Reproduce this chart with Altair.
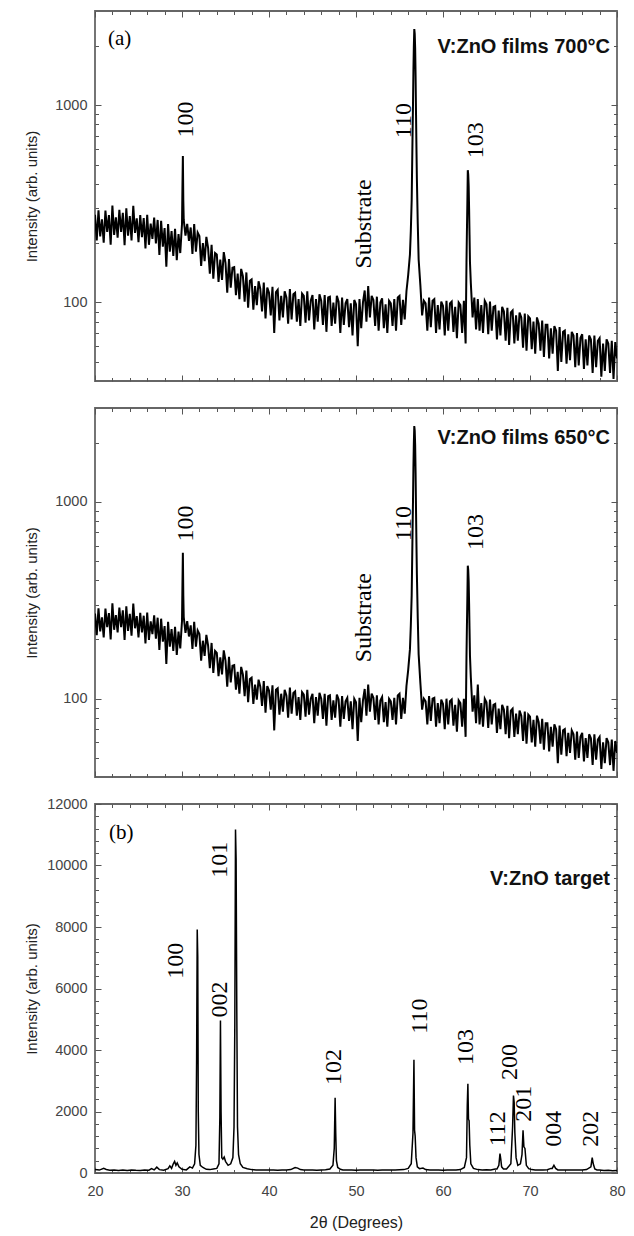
import altair as alt
import pandas as pd

SANS = "Liberation Sans"
SERIF = "Liberation Serif"
W = 522

# ---------------- film patterns (log panels) ----------------
# 2-theta sampling of the film scans (0.2 degree steps, 20..80)
film_2theta = [round(20 + 0.2 * i, 1) for i in range(301)]

counts_700 = [
    278, 206, 293, 216, 264,  201, 292, 228, 277, 196,  310, 220, 270, 213, 295,
    228, 285, 195, 300, 218,  274, 206, 309, 225, 267,  202, 277, 214, 268, 188,
    278, 196, 251, 210, 269,  199, 262, 174, 259, 192,  238, 152, 250, 181, 230,
    172, 236, 164, 222, 178,  250, 262, 218, 250, 205,  240, 176, 250, 181, 226,
    217, 153, 200, 162, 215,  189, 140, 196, 132, 178,  175, 127, 165, 130, 180,
    159, 112, 166, 119, 150,  151, 109, 140, 104, 148,  136, 101, 142, 94, 129,
    131, 92, 121, 97, 128,    117, 90, 126, 83, 119,    112, 86, 120, 70, 113,
    116, 81, 108, 84, 114,    106, 78, 117, 82, 110,    112, 80, 104, 76, 111,
    108, 79, 114, 81, 102,    109, 73, 104, 80, 110,    102, 77, 109, 71, 106,
    107, 76, 100, 78, 108,    101, 70, 106, 77, 99,     104, 75, 99, 68, 103,
    98, 60, 104, 74, 100,     115, 80, 121, 84, 108,    103, 76, 107, 72, 100,
    105, 74, 98, 70, 102,     99, 76, 104, 72, 106,     108, 77, 103, 82, 114,
    138, 175, 330, 1500, 1950, 420, 165, 122, 86, 102,  99, 72, 106, 75, 102,
    104, 70, 97, 73, 101,     96, 68, 102, 72, 99,      101, 71, 95, 66, 100,
    97, 70, 102, 62, 320,     300, 125, 84, 106, 73,    104, 72, 97, 70, 102,
    98, 69, 101, 72, 95,      96, 65, 91, 68, 95,       90, 64, 94, 61, 89,
    91, 62, 86, 64, 89,       84, 59, 88, 57, 85,       83, 58, 80, 55, 84,
    78, 57, 81, 53, 77,       77, 52, 74, 55, 76,       72, 45, 75, 50, 71,
    72, 49, 69, 51, 71,       68, 47, 70, 48, 66,       69, 46, 65, 48, 68,
    65, 44, 68, 47, 64,       66, 42, 62, 45, 65,       62, 44, 64, 41, 63,
    52,
]

counts_650 = [
    271, 210, 288, 220, 259,  205, 287, 231, 272, 200,  305, 224, 266, 217, 290,
    231, 281, 199, 295, 221,  270, 209, 304, 228, 263,  205, 273, 217, 264, 191,
    274, 199, 247, 213, 265,  202, 258, 177, 255, 195,  234, 150, 246, 184, 226,
    175, 232, 167, 219, 180,  248, 260, 216, 248, 207,  236, 179, 246, 184, 222,
    213, 156, 197, 165, 211,  186, 143, 192, 135, 175,  171, 130, 162, 133, 176,
    156, 115, 163, 121, 147,  148, 111, 137, 106, 145,  133, 103, 139, 96, 126,
    128, 94, 118, 99, 125,    115, 92, 123, 85, 116,    110, 88, 117, 69, 111,
    113, 83, 106, 86, 111,    104, 80, 114, 84, 107,    109, 82, 102, 78, 108,
    105, 81, 111, 83, 100,    106, 75, 102, 82, 107,    100, 79, 106, 73, 103,
    104, 78, 98, 80, 105,     99, 72, 103, 79, 97,      101, 77, 97, 70, 100,
    96, 61, 101, 76, 98,      112, 82, 118, 86, 106,    101, 78, 104, 74, 98,
    102, 76, 96, 72, 100,     97, 78, 101, 74, 104,     106, 79, 101, 84, 116,
    140, 178, 335, 1500, 1950, 425, 168, 120, 88, 100,  97, 74, 103, 77, 100,
    101, 72, 95, 75, 99,      94, 70, 100, 74, 97,      99, 73, 93, 68, 98,
    95, 72, 100, 64, 325,     305, 128, 86, 104, 75,    118, 74, 95, 72, 100,
    96, 71, 99, 74, 93,       94, 67, 89, 70, 93,       88, 66, 92, 63, 87,
    89, 64, 84, 66, 87,       82, 61, 86, 59, 83,       81, 60, 78, 57, 82,
    76, 59, 79, 55, 75,       75, 54, 72, 57, 74,       70, 47, 73, 52, 69,
    70, 51, 67, 53, 69,       66, 49, 68, 50, 64,       67, 48, 63, 50, 66,
    63, 46, 66, 49, 62,       64, 44, 60, 47, 63,       60, 46, 62, 43, 61,
    53,
]

# extra points resolving the narrow film peaks (100, 110, 103)
peak_2theta_700 = [30.05, 30.1, 30.15, 56.3, 56.5, 56.55, 56.65, 56.7, 56.75, 56.85,
                   56.9, 56.95, 57.1, 62.7, 62.75, 62.85, 62.9, 62.95, 63.05, 63.1]
peak_counts_700 = [380, 552, 330, 230, 700, 1000, 2000, 2430, 2300, 1400,
                   900, 600, 250, 160, 230, 468, 445, 390, 220, 160]
peak_2theta_650 = peak_2theta_700
peak_counts_650 = [375, 551, 335, 235, 700, 1000, 2000, 2430, 2300, 1400,
                   900, 600, 255, 165, 235, 474, 450, 395, 225, 165]

# ---------------- target pattern (linear panel) ----------------
target_2theta = [
    20.0, 20.5, 21.0, 21.3, 21.7, 22.2, 22.7, 23.2, 23.7, 24.2, 24.7, 25.2, 25.7, 26.2,
    26.5, 26.8, 27.1, 27.4, 27.9, 28.4, 28.6, 28.8, 29.0, 29.15, 29.3, 29.45, 29.65,
    30.0, 30.5, 30.9, 31.2, 31.45, 31.6, 31.68, 31.75, 31.81, 31.87, 31.95, 32.1, 32.4,
    32.8, 33.2, 33.6, 34.0, 34.25, 34.35, 34.42, 34.49, 34.57, 34.7, 34.85, 35.0, 35.3,
    35.6, 35.85, 35.98, 36.07, 36.15, 36.22, 36.3, 36.38, 36.5, 36.7, 37.0, 37.5, 38.0,
    38.5, 39.0, 39.5, 40.0, 40.5, 41.0, 41.5, 42.0, 42.5, 43.0, 43.3, 43.6, 44.0, 44.5,
    45.0, 45.5, 46.0, 46.5, 47.0, 47.35, 47.5, 47.6, 47.67, 47.75, 47.9, 48.2, 48.5,
    49.0, 49.5, 50.0, 50.5, 51.0, 51.5, 52.0, 52.5, 53.0, 53.5, 54.0, 54.5, 55.0, 55.5,
    56.0, 56.35, 56.55, 56.66, 56.73, 56.8, 56.9, 57.05, 57.3, 57.7, 58.0, 58.5, 59.0,
    59.5, 60.0, 60.5, 61.0, 61.5, 62.0, 62.45, 62.7, 62.79, 62.86, 62.93, 63.0, 63.08,
    63.2, 63.5, 64.0, 64.5, 65.0, 65.5, 66.0, 66.2, 66.42, 66.55, 66.64, 66.74, 66.95,
    67.3, 67.8, 68.0, 68.1, 68.18, 68.26, 68.4, 68.6, 68.9, 69.08, 69.2, 69.3, 69.42,
    69.58, 69.85, 70.2, 70.6, 71.0, 71.5, 72.0, 72.4, 72.55, 72.75, 72.95, 73.2, 73.5,
    74.0, 74.5, 75.0, 75.5, 76.0, 76.5, 77.0, 77.15, 77.27, 77.45, 77.7, 78.0, 78.5,
    79.0, 79.5, 80.0,
]
target_counts = [
    110, 95, 150, 115, 90, 100, 85, 95, 80, 100, 88, 85, 95, 90,
    140, 100, 190, 110, 90, 140, 230, 150, 300, 380, 250, 330, 200,
    120, 100, 200, 160, 300, 900, 3700, 7920, 7050, 2000, 600, 250, 180,
    120, 110, 130, 150, 300, 1800, 4960, 2000, 500, 450, 520, 380, 250,
    300, 500, 1500, 4800, 11170, 10200, 5200, 1500, 600, 300, 180, 140, 110,
    100, 100, 95, 100, 95, 90, 100, 95, 110, 180, 160, 110, 100, 95,
    100, 90, 100, 105, 130, 250, 800, 2450, 1300, 400, 180, 120, 100,
    95, 100, 90, 95, 100, 95, 100, 90, 95, 100, 95, 100, 105, 110,
    150, 300, 1300, 3680, 1400, 1200, 500, 200, 140, 160, 110, 100, 95,
    100, 90, 100, 95, 100, 110, 180, 500, 2200, 2900, 1750, 1700, 900,
    300, 150, 110, 100, 105, 100, 130, 130, 250, 630, 450, 200, 130,
    130, 300, 1500, 2520, 2300, 1300, 500, 250, 300, 600, 1390, 850, 800,
    250, 140, 110, 100, 95, 100, 105, 150, 150, 250, 150, 100, 95,
    100, 95, 100, 100, 95, 110, 200, 500, 300, 130, 100, 95, 80,
    90, 70, 80,
]

# ---------------- annotations ----------------
film_peak_labels = ["100", "Substrate", "110", "103"]
film_peak_label_2theta = [30.5, 50.9, 55.5, 63.8]
film_peak_label_y_700 = [846, 250, 835, 663]
film_peak_label_y_650 = [776, 258, 776, 704]

target_peak_labels = ["100", "002", "101", "102", "110", "103", "112", "200", "201", "004", "202"]
target_label_2theta = [29.3, 34.4, 34.4, 47.45, 57.35, 62.6, 66.3, 67.75, 69.35, 72.8, 77.0]
target_label_y = [6900, 5640, 10190, 3445, 5100, 4095, 1441, 3608, 2254, 1441, 1441]

panel_titles = ["V:ZnO films 700°C", "V:ZnO films 650°C", "V:ZnO target"]
panel_title_2theta = [79.2, 79.2, 79.2]
panel_title_y = [1970, 2110, 9567]

panel_tags = ["(a)", "(b)"]
panel_tag_2theta = [21.5, 21.6]
panel_tag_y = [2160, 11050]

x_major = [20, 30, 40, 50, 60, 70, 80]
x_minor = [v for v in range(22, 80, 2) if v % 10 != 0]
log_major = [100, 1000]
log_minor = [50, 60, 70, 80, 90, 200, 300, 400, 500, 600, 700, 800, 900, 2000]
lin_major = [0, 2000, 4000, 6000, 8000, 10000, 12000]
lin_minor = [v for v in range(400, 12000, 400) if v % 2000 != 0]

TICK = "#555555"
MAJ = 6
MIN = 3.5


def inward_axis(orient, values, size, **extra):
    return alt.Axis(orient=orient, values=values, tickSize=size, offset=-size,
                    domain=False, grid=False, tickColor=TICK, tickWidth=1,
                    minExtent=0, labels=extra.pop("labels", False), **extra)


def panel(line_df, label_df, title_df, tag_df, yscale, y_major, y_minor, height,
          bottom, line_width):
    xs = alt.Scale(domain=[20, 80], nice=False, zero=False)
    ylab = dict(labels=True, labelPadding=8, format="d",
                title="Intensity (arb. units)", titleX=-70, titleY=height / 2,
                titleAngle=270, titleAlign="center", titleBaseline="middle")
    if bottom:
        xline = alt.X("x:Q", scale=xs, axis=inward_axis(
            "bottom", x_major, MAJ, labels=True, labelPadding=11, format="d",
            title="2\u03b8 (Degrees)", titleX=W / 2, titleY=55,
            titleBaseline="middle", titleFontSize=16))
    else:
        xline = alt.X("x:Q", scale=xs, axis=inward_axis("bottom", x_major, MAJ), title=None)

    line = alt.Chart(line_df).mark_line(color="black", strokeWidth=line_width, clip=True).encode(
        x=xline,
        y=alt.Y("y:Q", scale=yscale, axis=inward_axis("left", y_major, MAJ, **ylab)),
    )
    carrier = alt.Chart(label_df).mark_point(opacity=0).encode(
        x=alt.X("x:Q", scale=xs, axis=inward_axis("bottom", x_minor, MIN), title=None),
        y=alt.Y("y:Q", scale=yscale, axis=inward_axis("left", y_minor, MIN), title=None),
    )
    labels = alt.Chart(label_df).mark_text(
        font=SERIF, fontSize=24, angle=270, align="center", baseline="middle",
        color="black").encode(
        x=alt.X("x:Q", scale=xs, axis=inward_axis("top", x_major, MAJ), title=None),
        y=alt.Y("y:Q", scale=yscale, axis=inward_axis("right", y_major, MAJ), title=None),
        text="label:N",
    )
    titles = alt.Chart(title_df).mark_text(
        font=SANS, fontSize=20, fontWeight="bold", align="right", baseline="middle",
        color="#111111").encode(
        x=alt.X("x:Q", scale=xs, axis=inward_axis("top", x_minor, MIN), title=None),
        y=alt.Y("y:Q", scale=yscale, axis=inward_axis("right", y_minor, MIN), title=None),
        text="label:N",
    )
    layers = [line, carrier, labels, titles]
    if tag_df is not None:
        tags = alt.Chart(tag_df).mark_text(
            font=SERIF, fontSize=21, align="left", baseline="middle",
            color="black").encode(
            x=alt.X("x:Q", scale=xs, axis=None),
            y=alt.Y("y:Q", scale=yscale, axis=None),
            text="label:N",
        )
        layers.append(tags)
    return alt.layer(*layers).resolve_axis(x="independent", y="independent").properties(
        width=W, height=height)


def film_df(bg, px, py):
    return pd.DataFrame({"x": film_2theta + px, "y": bg + py})


df700 = film_df(counts_700, peak_2theta_700, peak_counts_700)
df650 = film_df(counts_650, peak_2theta_650, peak_counts_650)
dft = pd.DataFrame({"x": target_2theta, "y": target_counts})

lab700 = pd.DataFrame({"x": film_peak_label_2theta, "y": film_peak_label_y_700, "label": film_peak_labels})
lab650 = pd.DataFrame({"x": film_peak_label_2theta, "y": film_peak_label_y_650, "label": film_peak_labels})
labt = pd.DataFrame({"x": target_label_2theta, "y": target_label_y, "label": target_peak_labels})


def one(i):
    return pd.DataFrame({"x": [panel_title_2theta[i]], "y": [panel_title_y[i]], "label": [panel_titles[i]]})


def tag(i):
    return pd.DataFrame({"x": [panel_tag_2theta[i]], "y": [panel_tag_y[i]], "label": [panel_tags[i]]})


logs = alt.Scale(type="log", domain=[40, 3000], nice=False)
lins = alt.Scale(domain=[0, 12000], nice=False, zero=False)

p1 = panel(df700, lab700, one(0), tag(0), logs, log_major, log_minor, 370, False, 2.0)
p2 = panel(df650, lab650, one(1), None, logs, log_major, log_minor, 369, False, 2.0)
p3 = panel(dft, labt, one(2), tag(1), lins, lin_major, lin_minor, 369, True, 1.5)

chart = alt.vconcat(p1, p2, p3, spacing=27, bounds="flush").configure(
    padding={"left": 15, "top": 1, "right": 0, "bottom": 0}
).configure_view(stroke="#666666", strokeWidth=1.8).configure_axis(
    labelFont=SANS, labelFontSize=14.5, labelColor="#444444", titleFont=SANS,
    titleFontSize=15, titleFontWeight="normal", titleColor="#222222",
    labelFlush=False, labelOverlap=False,
)

chart.save("out.html", embed_options={"renderer": "svg", "actions": False})
